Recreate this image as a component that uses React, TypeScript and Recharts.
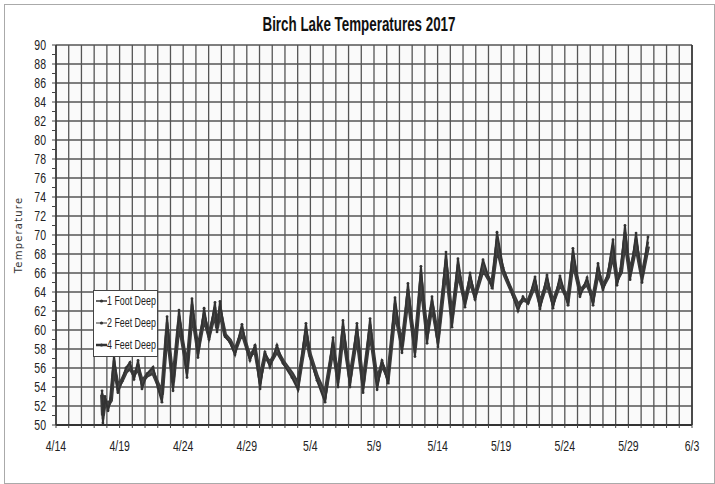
import React from "react"
import {
    LineChart,
    Line,
    XAxis,
    YAxis,
    CartesianGrid,
    ReferenceLine,
    Legend
} from "recharts"

// days since 4/14 (readings traced at the daily highs and lows)
const days = [
    3.62, 3.69, 3.85, 4.09, 4.32, 4.56, 4.87, 5.19, 5.5, 5.82, 6.13, 6.45, 6.76, 7.15, 7.63, 8.02, 8.33,
    8.73, 9.2, 9.67, 10.3, 10.69, 11.16, 11.64, 12.03, 12.5, 12.66, 12.89, 13.29, 13.68, 14.07, 14.62,
    15.02, 15.25, 15.64, 16.04, 16.43, 16.82, 17.37, 17.85, 18.55, 19.03, 19.65, 19.97, 20.52, 21.15,
    21.78, 22.17, 22.56, 23.11, 23.66, 24.14, 24.69, 25.24, 25.63, 26.1, 26.65, 27.2, 27.67, 28.22,
    28.69, 29.17, 29.56, 30.03, 30.66, 31.13, 31.6, 32.15, 32.55, 32.94, 33.57, 34.28, 34.67, 35.14,
    35.69, 36.32, 36.71, 37.11, 37.66, 38.05, 38.6, 39.07, 39.62, 40.25, 40.64, 41.19, 41.75, 42.22,
    42.61, 43.0, 43.4, 43.79, 44.1, 44.42, 44.73, 45.13, 45.6, 46.07, 46.54
]

const foot1 = [
    53.6, 50.2, 53.0, 51.5, 52.8, 57.3, 53.4, 54.6, 56.0, 56.6, 54.8, 56.8, 53.8, 55.4, 56.1, 53.9, 52.4,
    61.4, 53.6, 62.1, 55.0, 63.3, 57.1, 62.3, 59.0, 62.9, 59.8, 63.0, 59.3, 58.7, 57.4, 60.6,
    57.9, 56.8, 58.4, 53.8, 57.7, 56.1, 58.4, 56.5, 55.0, 53.7, 60.7, 57.2, 54.7, 52.4,
    59.2, 54.0, 61.0, 54.0, 60.7, 53.4, 61.2, 53.7, 56.8, 54.4, 63.4, 57.6, 64.9, 57.2,
    66.7, 58.6, 63.5, 58.2, 68.2, 60.3, 67.5, 62.4, 66.0, 63.2, 67.4, 64.4, 70.3, 66.6,
    64.5, 62.0, 63.5, 62.8, 65.6, 62.2, 65.8, 62.3, 65.7, 62.6, 68.6, 63.5, 65.5, 62.6,
    67.0, 64.2, 66.0, 69.5, 64.7, 66.5, 71.0, 65.3, 70.2, 65.0, 69.8
]

const feet2 = [
    53.4, 50.6, 52.8, 51.8, 52.7, 56.8, 53.7, 54.6, 55.8, 56.3, 55.0, 56.4, 54.2, 55.3, 55.8, 54.1, 52.8,
    60.8, 54.0, 61.5, 55.4, 62.7, 57.5, 61.8, 59.2, 62.4, 60.0, 62.5, 59.4, 58.8, 57.6, 60.2,
    58.0, 57.0, 58.2, 54.3, 57.5, 56.3, 58.1, 56.6, 55.2, 54.0, 60.1, 57.3, 54.9, 52.8,
    58.7, 54.4, 60.4, 54.4, 60.1, 53.8, 60.6, 54.1, 56.6, 54.7, 62.8, 57.9, 64.3, 57.6,
    66.0, 59.0, 63.1, 58.6, 67.5, 60.7, 66.9, 62.7, 65.6, 63.4, 66.9, 64.6, 69.6, 66.4,
    64.5, 62.3, 63.3, 62.9, 65.2, 62.5, 65.4, 62.6, 65.3, 62.9, 68.0, 63.8, 65.2, 62.9,
    66.6, 64.4, 65.8, 68.9, 65.0, 66.3, 70.3, 65.6, 69.6, 65.3, 69.3
]

const feet4 = [
    53.2, 51.0, 52.6, 52.1, 52.6, 56.2, 54.0, 54.7, 55.6, 56.0, 55.3, 56.0, 54.6, 55.2, 55.5, 54.3, 53.2,
    60.1, 54.5, 60.9, 55.9, 62.0, 57.9, 61.3, 59.4, 61.9, 60.2, 62.0, 59.5, 58.9, 57.8, 59.8,
    58.1, 57.2, 58.0, 54.9, 57.3, 56.5, 57.8, 56.7, 55.4, 54.3, 59.5, 57.4, 55.1, 53.2,
    58.2, 54.8, 59.8, 54.9, 59.5, 54.3, 60.0, 54.6, 56.4, 55.0, 62.1, 58.3, 63.6, 58.1,
    65.2, 59.5, 62.7, 59.1, 66.7, 61.2, 66.2, 63.0, 65.2, 63.6, 66.4, 64.8, 68.8, 66.2,
    64.5, 62.6, 63.2, 63.0, 64.8, 62.8, 65.0, 62.9, 64.9, 63.2, 67.3, 64.1, 64.9, 63.3,
    66.1, 64.6, 65.6, 68.2, 65.3, 66.1, 69.5, 65.9, 68.9, 65.6, 68.8
]

const xLabels = ["4/14", "4/19", "4/24", "4/29", "5/4", "5/9", "5/14", "5/19", "5/24", "5/29", "6/3"]
const yMajor = [50, 52, 54, 56, 58, 60, 62, 64, 66, 68, 70, 72, 74, 76, 78, 80, 82, 84, 86, 88, 90]

const seriesNames = ["1 Foot Deep", "2 Feet Deep", "4 Feet Deep"]

const data = days.map((d, i) => ({ day: d, foot1: foot1[i], feet2: feet2[i], feet4: feet4[i] }))
const dayTicks = Array.from({ length: 51 }, (_, i) => i)
const yAll = Array.from({ length: 41 }, (_, i) => 50 + i)

const font = "'Liberation Sans', Arial, sans-serif"

// squeezed tick text, to look like the narrow font of the original
function NarrowTick(props: any) {
    const { x, y, payload, textAnchor, kind } = props
    const v = payload.value as number
    let label = ""
    if (kind === "x") label = v % 5 === 0 ? xLabels[v / 5] : ""
    else label = v % 2 === 0 ? String(v) : ""
    if (!label) return null
    return (
        <text
            transform={`translate(${x},${y}) scale(0.7,1)`}
            textAnchor={textAnchor}
            dy={kind === "x" ? "0.85em" : "0.36em"}
            fill="#222"
            fontSize={15}
            fontFamily={font}
        >
            {label}
        </text>
    )
}

function LegendBox() {
    return (
        <svg width={65} height={67} style={{ display: "block" }}>
            <rect x={0.5} y={0.5} width={64} height={66} fill="#fff" stroke="#444" />
            {seriesNames.map((n, i) => (
                <g key={n} transform={`translate(3,${11 + i * 22})`}>
                    <line x1={0} y1={0} x2={11} y2={0} stroke={i === 1 ? "#777" : "#333"} strokeWidth={i === 2 ? 2.5 : 1.5} />
                    <circle cx={5.5} cy={0} r={1.6} fill="#333" />
                    <text transform="translate(11,0) scale(0.74,1)" dy="0.36em" fontSize={12} fontFamily={font} fill="#222">
                        {n}
                    </text>
                </g>
            ))}
        </svg>
    )
}

export default function App() {
    return (
        <div style={{ position: "absolute", left: 0, top: 0, width: 715, height: 484, background: "#fff" }}>
            <div
                style={{
                    position: "absolute",
                    left: 4,
                    top: 4,
                    width: 711,
                    height: 480,
                    border: "1px solid #aaa",
                    boxSizing: "border-box",
                }}
            />
            <svg width={715} height={40} style={{ position: "absolute", left: 0, top: 0 }}>
                <text
                    x={359}
                    y={31}
                    textAnchor="middle"
                    fontFamily={font}
                    fontWeight="bold"
                    fontSize={20}
                    fill="#111"
                    textLength={193}
                    lengthAdjust="spacingAndGlyphs"
                >
                    Birch Lake Temperatures 2017
                </text>
            </svg>
            <div style={{ position: "absolute", left: 0, top: 0 }}>
                <LineChart
                    width={715}
                    height={484}
                    data={data}
                    margin={{ top: 45, right: 0, left: 16, bottom: 29 }}
                >
                    <CartesianGrid
                        yAxisId="left"
                        horizontal={false}
                        stroke="#555"
                        strokeWidth={1.3}
                        fill="#fafafa"
                    />
                    <XAxis
                        dataKey="day"
                        type="number"
                        domain={[0, 50]}
                        ticks={dayTicks}
                        interval={0}
                        tick={<NarrowTick kind="x" />}
                        tickLine={{ stroke: "#444" }}
                        tickSize={3}
                        tickMargin={10}
                        axisLine={{ stroke: "#333", strokeWidth: 2 }}
                        height={30}
                    />
                    <YAxis
                        yAxisId="left"
                        domain={[50, 90]}
                        ticks={yAll}
                        interval={0}
                        tick={<NarrowTick kind="y" />}
                        tickLine={{ stroke: "#444" }}
                        tickSize={4}
                        tickMargin={6}
                        axisLine={{ stroke: "#333", strokeWidth: 1.5 }}
                        width={40}
                        label={{
                            value: "Temperature",
                            angle: -90,
                            position: "insideLeft",
                            offset: 2,
                            style: { fill: "#333", fontSize: 10, letterSpacing: 1.2, textAnchor: "middle", fontFamily: "'DejaVu Sans', sans-serif" },
                        }}
                    />
                    <YAxis
                        yAxisId="right"
                        orientation="right"
                        domain={[50, 90]}
                        ticks={yAll}
                        interval={0}
                        tick={<NarrowTick kind="y" />}
                        tickLine={{ stroke: "#444" }}
                        tickSize={4}
                        tickMargin={4}
                        axisLine={{ stroke: "#333", strokeWidth: 1.5 }}
                        width={23}
                    />
                    {yMajor.map((v) => (
                        <ReferenceLine key={v} yAxisId="left" y={v} stroke="#555" strokeWidth={1.3} />
                    ))}
                    <Legend
                        layout="horizontal"
                        verticalAlign="middle"
                        align="center"
                        content={() => <LegendBox />}
                        wrapperStyle={{ position: "absolute", left: 93, top: 290, width: 65, height: 67 }}
                    />
                    <Line
                        yAxisId="left"
                        dataKey="feet4"
                        name={seriesNames[2]}
                        stroke="#3a3a3a"
                        strokeWidth={4}
                        dot={false}
                        isAnimationActive={false}
                    />
                    <Line
                        yAxisId="left"
                        dataKey="feet2"
                        name={seriesNames[1]}
                        stroke="#4a4a4a"
                        strokeWidth={2.5}
                        dot={false}
                        isAnimationActive={false}
                    />
                    <Line
                        yAxisId="left"
                        dataKey="foot1"
                        name={seriesNames[0]}
                        stroke="#333"
                        strokeWidth={2}
                        dot={{ r: 1.4, fill: "#333", stroke: "none" }}
                        isAnimationActive={false}
                    />
                </LineChart>
            </div>
        </div>
    )
}
